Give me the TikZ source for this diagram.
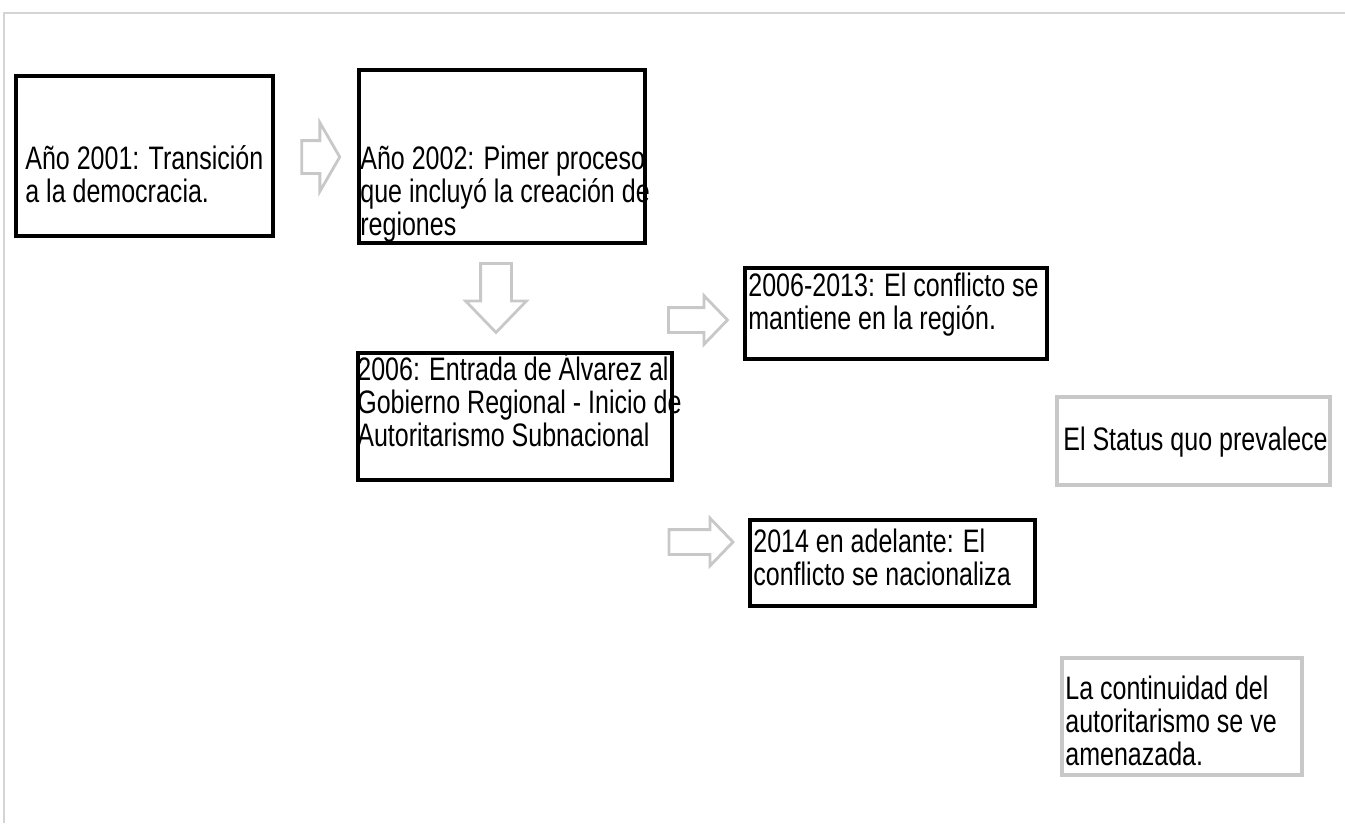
\documentclass[tikz,border=0pt]{standalone}
\usepackage{fontspec}
\setmainfont{Liberation Sans}[FakeStretch=0.77]
\usetikzlibrary{shapes.arrows}
\definecolor{framegray}{RGB}{212,212,212}
\definecolor{boxgray}{RGB}{200,200,200}

\begin{document}
\begin{tikzpicture}[x=0.02cm,y=-0.02cm]
    \tikzstyle{blackbox}=[draw=black, line width=2.3pt, inner sep=0pt, anchor=north west]
    \tikzstyle{graybox}=[draw=boxgray, line width=2.3pt, inner sep=0pt, anchor=north west]
    \tikzstyle{txt}=[inner sep=0pt, anchor=base west, align=left,
        font=\fontsize{18.5}{18.6}\selectfont]
    \tikzstyle{grayarrow}=[single arrow, draw=boxgray, line width=1.6pt, inner sep=0pt, text depth=0pt]
    \useasboundingbox (0,0) rectangle (1345,823);
    % frame
    \draw[framegray, line width=1.4pt] (4,823) -- (4,13) -- (1345,13);
    % boxes
    \node[blackbox, minimum width=5.14cm, minimum height=3.2cm] (b1) at (14,74) {};
    \node[blackbox, minimum width=5.72cm, minimum height=3.46cm] (b2) at (357,68) {};
    \node[blackbox, minimum width=6.04cm, minimum height=1.82cm] (b3) at (743,266) {};
    \node[blackbox, minimum width=6.28cm, minimum height=2.54cm] (b4) at (356,351) {};
    \node[blackbox, minimum width=5.70cm, minimum height=1.72cm] (b5) at (748,518) {};
    \node[graybox, minimum width=5.46cm, minimum height=1.76cm] (s1) at (1055,395) {};
    \node[graybox, minimum width=4.80cm, minimum height=2.34cm] (s2) at (1060,656) {};
    % texts (anchored at the last line)
    \node[txt] (t1) at (25,202) {Año 2001: Transición\\a la democracia.};
    \node[txt] (t2) at (360,235) {Año 2002: Pimer proceso\\que incluyó la creación de\\regiones};
    \node[txt] (t3) at (748,329) {2006-2013: El conflicto se\\mantiene en la región.};
    \node[txt] (t4) at (357,446) {2006: Entrada de Álvarez al\\Gobierno Regional - Inicio de\\Autoritarismo Subnacional};
    \node[txt] (t5) at (753,585) {2014 en adelante: El\\conflicto se nacionaliza};
    \node[txt] (t6) at (1063,450) {El Status quo prevalece};
    \node[txt] (t7) at (1065,765) {La continuidad del\\autoritarismo se ve\\amenazada.};
    % arrows
    \foreach \n/\x/\y/\r/\l/\s/\e/\a in {a1/316/157/0/0.76/0.6/0.36/120, a2/496/290/-90/1.38/0.56/0.3/88,
    a3/692/320/0/1.18/0.44/0.24/92, a4/695/542/0/1.28/0.44/0.23/92}
        \node[grayarrow, rotate=\r, minimum height=\l cm, text height=\s cm,
            single arrow head extend=\e cm, single arrow tip angle=\a] (\n) at (\x,\y) {};
\end{tikzpicture}
\end{document}
